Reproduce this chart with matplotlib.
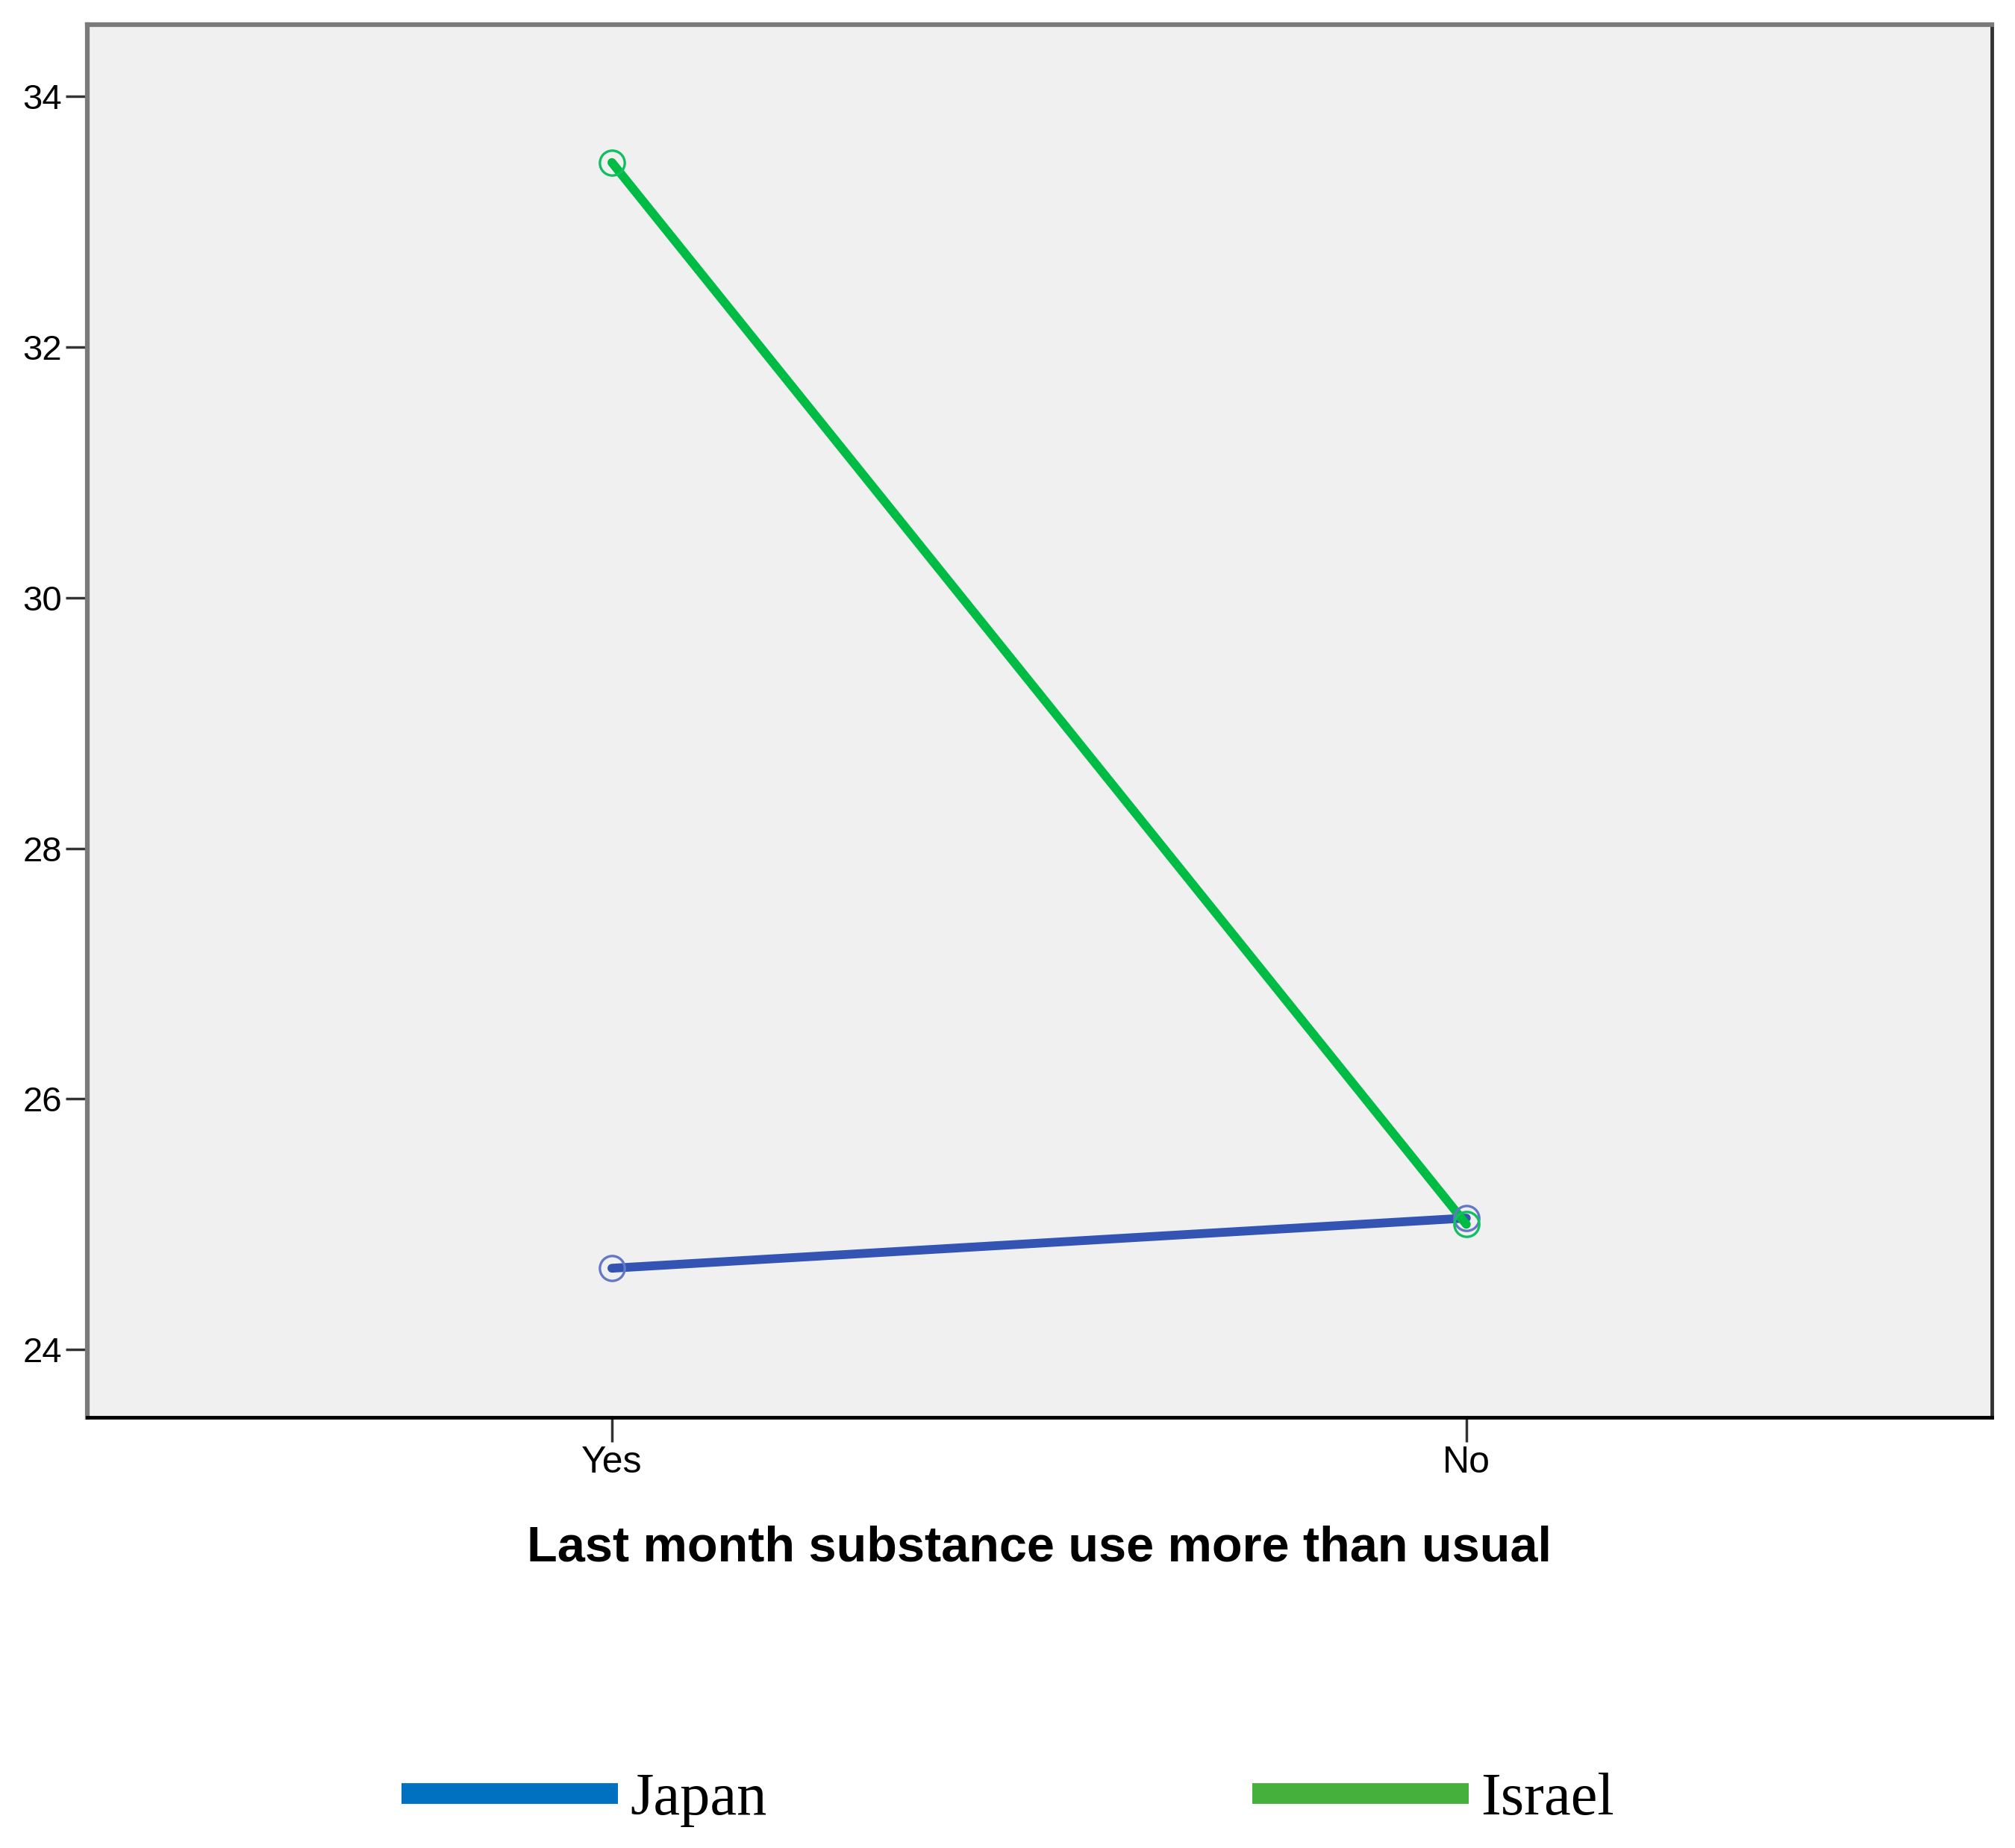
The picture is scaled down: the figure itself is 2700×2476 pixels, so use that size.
import matplotlib
matplotlib.use("Agg")
import matplotlib.pyplot as plt
from matplotlib.lines import Line2D

# Values
categories = ["Yes", "No"]
japan = [24.65, 25.05]
israel = [33.47, 25.0]
y_ticks = [24, 26, 28, 30, 32, 34]

JAPAN_LINE = "#3454b4"
JAPAN_MARK = "#6478c8"
ISRAEL_LINE = "#00bb44"
ISRAEL_MARK = "#10c060"

plt.rcParams['font.family'] = ['Liberation Sans', 'DejaVu Sans']

fig = plt.figure(figsize=(27, 24.76), dpi=100)
ax = fig.add_axes([0.0433, 0.233, 0.9452, 0.7537])
ax.set_facecolor("#f0f0f0")

x = range(len(categories))
ax.plot(x, japan, color=JAPAN_LINE, lw=8.5, solid_capstyle='round', zorder=3)
ax.plot(x, japan, ls='none', marker='o', ms=24, mfc='none', mec=JAPAN_MARK, mew=2.4, zorder=4)
ax.plot(x, israel, color=ISRAEL_LINE, lw=8.5, solid_capstyle='round', zorder=3)
ax.plot(x, israel, ls='none', marker='o', ms=24, mfc='none', mec=ISRAEL_MARK, mew=2.4, zorder=4)

ax.set_xlim(-0.614, 1.615)
ax.set_ylim(23.46, 34.57)
ax.set_xticks(list(x))
ax.set_xticklabels(categories)
ax.set_yticks(y_ticks)

ax.tick_params(axis='y', length=21, width=2.5, color='#333333', pad=3.5, labelsize=34)
ax.tick_params(axis='x', length=24, width=2.5, color='#333333', pad=3, labelsize=36)

for side in ('left', 'top'):
    ax.spines[side].set_color('#7a7a7a')
    ax.spines[side].set_linewidth(4.5)
ax.spines['bottom'].set_color('black')
ax.spines['bottom'].set_linewidth(3.5)
ax.spines['right'].set_color('#333333')
ax.spines['right'].set_linewidth(3.5)

ax.set_xlabel("Last month substance use more than usual", fontsize=48,
              fontweight='bold', labelpad=44)

# legend drawn as flat bars at the bottom of the figure
handles = [Line2D([], [], color="#0070c0", lw=20, solid_capstyle='butt'),
           Line2D([], [], color="#45b03b", lw=20, solid_capstyle='butt')]
fig.legend(handles, ["Japan", "Israel"], loc='center left',
           bbox_to_anchor=(538 / 2700, 0.026), ncol=2, frameon=False,
           prop={'family': 'Liberation Serif', 'size': 58},
           handlelength=3.6, handletextpad=0.2, columnspacing=8.07,
           borderpad=0, borderaxespad=0)

fig.savefig("out.png", dpi=100, facecolor='white')
